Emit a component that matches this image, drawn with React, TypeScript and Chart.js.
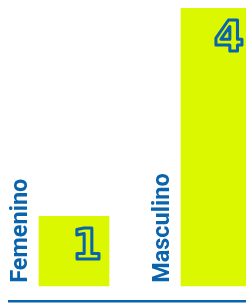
import { useEffect, useRef } from 'react';
import { Chart, registerables } from 'chart.js';

Chart.register(...registerables);

const categories = ['Femenino', 'Masculino'];
const values = [1, 4];
const positions = [0, 1];

const BAR = '#dcf800';
const BLUE = '#0a63ad';

export default function App() {
  const ref = useRef<HTMLCanvasElement>(null);

  useEffect(() => {
    if (!ref.current) return;
    const labelPlugin = {
      id: 'barLabels',
      afterDatasetsDraw(chart: any) {
        const { ctx } = chart;
        const meta = chart.getDatasetMeta(0);
        meta.data.forEach((bar: any, i: number) => {
          const { x, y, base, width } = bar.getProps(['x', 'y', 'base', 'width'], true);
          const left = x - width / 2;
          const right = x + width / 2;

          ctx.save();
          ctx.translate(left - 12, base - 3);
          ctx.rotate(-Math.PI / 2);
          ctx.font = 'bold 23.5px Roboto';
          ctx.fillStyle = BLUE;
          ctx.textAlign = 'left';
          ctx.textBaseline = 'alphabetic';
          ctx.fillText(categories[i], 0, 0);
          ctx.restore();

          ctx.save();
          const fs = 43;
          const lw = 3;
          ctx.font = `bold ${fs}px "DejaVu Sans"`;
          ctx.textAlign = 'right';
          ctx.textBaseline = 'alphabetic';
          ctx.lineJoin = 'round';
          ctx.fillStyle = BAR;
          ctx.strokeStyle = BLUE;
          ctx.lineWidth = lw;
          const ty = y + 10 + lw / 2 + 0.729 * fs;
          ctx.fillText(String(values[i]), right - 7, ty);
          ctx.strokeText(String(values[i]), right - 7, ty);
          ctx.restore();
        });
      },
    };

    const chart = new Chart(ref.current, {
      type: 'bar',
      data: {
        datasets: [
          {
            data: positions.map((p, i) => ({ x: p, y: values[i] })),
            backgroundColor: BAR,
            barThickness: 70,
          },
        ],
      },
      options: {
        responsive: false,
        animation: false,
        layout: { padding: { top: 8, left: 9, right: 0, bottom: 1.3 } },
        plugins: { legend: { display: false }, tooltip: { enabled: false } },
        scales: {
          x: {
            type: 'linear',
            offset: false,
            min: -0.4577,
            max: 1.2113,
            grid: { display: false, drawTicks: false, tickLength: 0 },
            ticks: { display: false },
            border: { display: true, color: BLUE, width: 2.5 },
          },
          y: { display: false, min: -0.228, max: 4 },
        },
      },
      plugins: [labelPlugin],
    });
    return () => chart.destroy();
  }, []);

  return (
    <div style={{ position: 'fixed', left: 0, top: 0, width: 246, height: 303, overflow: 'hidden', background: '#fff' }}>
      <canvas ref={ref} width={246} height={303} style={{ width: 246, height: 303, display: 'block' }} />
    </div>
  );
}
